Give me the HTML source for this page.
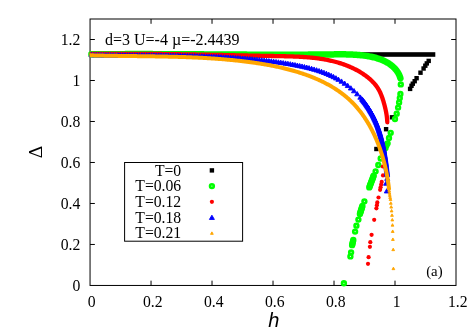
<!DOCTYPE html>
<html><head><meta charset="utf-8"><title>chart</title>
<style>html,body{margin:0;padding:0;background:#fff;}body{width:473px;height:331px;overflow:hidden;position:relative;font-family:"Liberation Sans",sans-serif;}</style>
</head><body>
<svg width="473" height="331" viewBox="0 0 473 331" style="position:absolute;left:0;top:0;will-change:transform">
<rect width="473" height="331" fill="#fff"/>
<g stroke="#000" stroke-width="1" fill="none">
<rect x="90.05" y="19.0" width="365.95" height="266.45"/>
<path d="M151.04 285.45V280.65M151.04 19.0V23.8"/>
<path d="M90.05 244.46H94.85M456.0 244.46H451.2"/>
<path d="M212.03 285.45V280.65M212.03 19.0V23.8"/>
<path d="M90.05 203.47H94.85M456.0 203.47H451.2"/>
<path d="M273.03 285.45V280.65M273.03 19.0V23.8"/>
<path d="M90.05 162.47H94.85M456.0 162.47H451.2"/>
<path d="M334.02 285.45V280.65M334.02 19.0V23.8"/>
<path d="M90.05 121.48H94.85M456.0 121.48H451.2"/>
<path d="M395.01 285.45V280.65M395.01 19.0V23.8"/>
<path d="M90.05 80.49H94.85M456.0 80.49H451.2"/>
<path d="M90.05 39.50H94.85M456.0 39.50H451.2"/>
</g>
<g shape-rendering="auto">
<rect x="88.8" y="52.2" width="346.5" height="4.6" fill="#000"/>
<rect x="426.50" y="58.70" width="4.4" height="4.4" fill="#000"/>
<rect x="424.60" y="61.20" width="4.4" height="4.4" fill="#000"/>
<rect x="423.10" y="63.50" width="4.4" height="4.4" fill="#000"/>
<rect x="421.40" y="66.30" width="4.4" height="4.4" fill="#000"/>
<rect x="418.30" y="70.50" width="4.4" height="4.4" fill="#000"/>
<rect x="414.40" y="76.00" width="4.4" height="4.4" fill="#000"/>
<rect x="412.50" y="79.00" width="4.4" height="4.4" fill="#000"/>
<rect x="410.60" y="81.50" width="4.4" height="4.4" fill="#000"/>
<rect x="409.30" y="83.60" width="4.4" height="4.4" fill="#000"/>
<rect x="407.90" y="86.70" width="4.4" height="4.4" fill="#000"/>
<rect x="389.80" y="115.10" width="4.4" height="4.4" fill="#000"/>
<rect x="383.90" y="127.00" width="4.4" height="4.4" fill="#000"/>
<rect x="374.20" y="146.80" width="4.4" height="4.4" fill="#000"/>
<path d="M91.50 54.35L92.50 54.34L93.50 54.33L94.50 54.32L95.50 54.31L96.50 54.30L97.50 54.29L98.50 54.28L99.50 54.27L100.50 54.26L101.50 54.25L102.50 54.24L103.50 54.24L104.50 54.23L105.50 54.22L106.50 54.21L107.50 54.21L108.50 54.20L109.50 54.19L110.50 54.19L111.50 54.18L112.50 54.18L113.50 54.17L114.50 54.17L115.50 54.16L116.50 54.16L117.50 54.15L118.50 54.15L119.50 54.14L120.50 54.14L121.50 54.14L122.50 54.13L123.50 54.13L124.50 54.13L125.50 54.12L126.50 54.12L127.50 54.12L128.50 54.12L129.50 54.11L130.50 54.11L131.50 54.11L132.50 54.11L133.50 54.11L134.50 54.11L135.50 54.11L136.50 54.11L137.50 54.11L138.50 54.11L139.50 54.11L140.50 54.11L141.50 54.11L142.50 54.11L143.50 54.11L144.50 54.11L145.50 54.11L146.50 54.11L147.50 54.11L148.50 54.12L149.50 54.12L150.50 54.12L151.50 54.12L152.50 54.12L153.50 54.13L154.50 54.13L155.50 54.13L156.50 54.13L157.50 54.14L158.50 54.14L159.50 54.14L160.50 54.15L161.50 54.15L162.50 54.15L163.50 54.16L164.50 54.16L165.50 54.16L166.50 54.17L167.50 54.17L168.50 54.18L169.50 54.18L170.50 54.18L171.50 54.19L172.50 54.19L173.50 54.20L174.50 54.20L175.50 54.21L176.50 54.21L177.50 54.22L178.50 54.22L179.50 54.23L180.50 54.23L181.50 54.24L182.50 54.24L183.50 54.25L184.50 54.26L185.50 54.26L186.50 54.27L187.50 54.27L188.50 54.28L189.50 54.28L190.50 54.29L191.50 54.30L192.50 54.30L193.50 54.31L194.50 54.31L195.50 54.32L196.50 54.33L197.50 54.33L198.50 54.34L199.50 54.35L200.50 54.35L201.50 54.36L202.50 54.36L203.50 54.37L204.50 54.38L205.50 54.38L206.50 54.39L207.50 54.40L208.50 54.40L209.50 54.41L210.50 54.42L211.50 54.42L212.50 54.43L213.50 54.43L214.50 54.44L215.50 54.45L216.50 54.45L217.50 54.46L218.50 54.47L219.50 54.47L220.50 54.48L221.50 54.48L222.50 54.49L223.50 54.50L224.50 54.50L225.50 54.51L226.50 54.52L227.50 54.52L228.50 54.53L229.50 54.53L230.50 54.54L231.50 54.54L232.50 54.55L233.50 54.56L234.50 54.56L235.50 54.57L236.50 54.57L237.50 54.58L238.50 54.58L239.50 54.59L240.50 54.59L241.50 54.60L242.50 54.60L243.50 54.61L244.50 54.61L245.50 54.62L246.50 54.62L247.50 54.63L248.50 54.63L249.50 54.64L250.50 54.64L251.50 54.64L252.50 54.65L253.50 54.65L254.50 54.66L255.50 54.66L256.50 54.66L257.50 54.67L258.50 54.67L259.50 54.67L260.50 54.68L261.50 54.68L262.50 54.68L263.50 54.69L264.50 54.69L265.50 54.69L266.50 54.69L267.50 54.69L268.50 54.70L269.50 54.70L270.50 54.70L271.50 54.70L272.50 54.70L273.50 54.70L274.50 54.70L275.50 54.71L276.50 54.71L277.50 54.71L278.50 54.71L279.50 54.71L280.50 54.71L281.50 54.71L282.50 54.71L283.50 54.71L284.50 54.70L285.50 54.70L286.50 54.70L287.50 54.70L288.50 54.70L289.50 54.70L290.50 54.70L291.50 54.69L292.50 54.69L293.50 54.69L294.50 54.69L295.50 54.68L296.50 54.68L297.50 54.68L298.50 54.67L299.50 54.67L300.50 54.66L301.50 54.66L302.50 54.65L303.50 54.65L304.50 54.64L305.50 54.64L306.50 54.63L307.50 54.63L308.50 54.62L309.50 54.62L310.50 54.61L311.50 54.60L312.50 54.59L313.50 54.59L314.50 54.58L315.50 54.57L316.50 54.56L317.50 54.55L318.50 54.55L319.50 54.54L320.50 54.53L321.50 54.52L322.50 54.51L323.50 54.50L324.50 54.49L325.50 54.48L326.50 54.47L327.50 54.45L328.50 54.44L329.50 54.43L330.50 54.42L331.50 54.41L332.50 54.39L333.50 54.38L334.50 54.37L335.50 54.36L336.50 54.35L337.50 54.34L338.50 54.34L339.50 54.33L340.50 54.33L341.50 54.33L342.50 54.34L343.50 54.34L344.50 54.35L345.50 54.37L346.50 54.38L347.50 54.40L348.50 54.43L349.49 54.46L350.49 54.49L351.49 54.53L352.49 54.58L353.49 54.63L354.49 54.68L355.49 54.75L356.49 54.81L357.48 54.89L358.48 54.97L359.47 55.06L360.47 55.15L361.47 55.26L362.46 55.37L363.45 55.49L364.44 55.62L365.43 55.75L366.42 55.90L367.41 56.05L368.40 56.22L369.38 56.39L370.36 56.58L371.34 56.78L372.32 56.99L373.30 57.22L374.27 57.46L375.23 57.71L376.20 57.98L377.16 58.26L378.11 58.56L379.06 58.87L380.00 59.21L380.94 59.56L381.87 59.92L382.79 60.31L383.71 60.72L384.61 61.15L385.50 61.60L386.39 62.07L387.26 62.56L388.11 63.07L388.96 63.61L389.78 64.17L390.60 64.75L391.39 65.36L392.17 65.99L392.92 66.65L393.66 67.33L394.37 68.03L395.06 68.75L395.72 69.50L396.35 70.28L396.95 71.08L397.52 71.90L398.05 72.75L398.55 73.62L399.00 74.51L399.42 75.42L399.79 76.34L400.11 77.29L400.40 78.25" fill="none" stroke="#00ff00" stroke-width="6.5" stroke-linecap="round" stroke-linejoin="round"/>
<circle cx="400.80" cy="84.40" r="1.85" fill="none" stroke="#00ff00" stroke-width="2.65"/>
<circle cx="400.40" cy="93.90" r="1.85" fill="none" stroke="#00ff00" stroke-width="2.65"/>
<circle cx="399.80" cy="98.10" r="1.85" fill="none" stroke="#00ff00" stroke-width="2.65"/>
<circle cx="399.10" cy="102.40" r="1.85" fill="none" stroke="#00ff00" stroke-width="2.65"/>
<circle cx="398.10" cy="107.60" r="1.85" fill="none" stroke="#00ff00" stroke-width="2.65"/>
<circle cx="396.70" cy="113.70" r="1.85" fill="none" stroke="#00ff00" stroke-width="2.65"/>
<circle cx="395.00" cy="119.00" r="1.85" fill="none" stroke="#00ff00" stroke-width="2.65"/>
<circle cx="390.70" cy="132.80" r="1.85" fill="none" stroke="#00ff00" stroke-width="2.65"/>
<circle cx="389.00" cy="138.00" r="1.85" fill="none" stroke="#00ff00" stroke-width="2.65"/>
<circle cx="387.60" cy="143.30" r="1.85" fill="none" stroke="#00ff00" stroke-width="2.65"/>
<circle cx="386.50" cy="145.30" r="1.85" fill="none" stroke="#00ff00" stroke-width="2.65"/>
<circle cx="385.50" cy="148.00" r="1.85" fill="none" stroke="#00ff00" stroke-width="2.65"/>
<circle cx="383.50" cy="152.50" r="1.85" fill="none" stroke="#00ff00" stroke-width="2.65"/>
<circle cx="380.70" cy="158.50" r="1.85" fill="none" stroke="#00ff00" stroke-width="2.65"/>
<circle cx="378.30" cy="165.00" r="1.85" fill="none" stroke="#00ff00" stroke-width="2.65"/>
<circle cx="375.60" cy="171.30" r="1.85" fill="none" stroke="#00ff00" stroke-width="2.65"/>
<circle cx="373.70" cy="175.60" r="1.85" fill="none" stroke="#00ff00" stroke-width="2.65"/>
<circle cx="373.26" cy="176.78" r="1.85" fill="none" stroke="#00ff00" stroke-width="2.65"/>
<circle cx="372.82" cy="177.96" r="1.85" fill="none" stroke="#00ff00" stroke-width="2.65"/>
<circle cx="372.38" cy="179.14" r="1.85" fill="none" stroke="#00ff00" stroke-width="2.65"/>
<circle cx="371.94" cy="180.32" r="1.85" fill="none" stroke="#00ff00" stroke-width="2.65"/>
<circle cx="371.50" cy="181.50" r="1.85" fill="none" stroke="#00ff00" stroke-width="2.65"/>
<circle cx="371.06" cy="182.68" r="1.85" fill="none" stroke="#00ff00" stroke-width="2.65"/>
<circle cx="370.62" cy="183.86" r="1.85" fill="none" stroke="#00ff00" stroke-width="2.65"/>
<circle cx="370.18" cy="185.04" r="1.85" fill="none" stroke="#00ff00" stroke-width="2.65"/>
<circle cx="369.74" cy="186.22" r="1.85" fill="none" stroke="#00ff00" stroke-width="2.65"/>
<circle cx="369.30" cy="187.40" r="1.85" fill="none" stroke="#00ff00" stroke-width="2.65"/>
<circle cx="364.40" cy="201.30" r="1.85" fill="none" stroke="#00ff00" stroke-width="2.65"/>
<circle cx="362.40" cy="206.00" r="1.85" fill="none" stroke="#00ff00" stroke-width="2.65"/>
<circle cx="362.04" cy="207.14" r="1.85" fill="none" stroke="#00ff00" stroke-width="2.65"/>
<circle cx="361.69" cy="208.29" r="1.85" fill="none" stroke="#00ff00" stroke-width="2.65"/>
<circle cx="361.33" cy="209.43" r="1.85" fill="none" stroke="#00ff00" stroke-width="2.65"/>
<circle cx="360.97" cy="210.57" r="1.85" fill="none" stroke="#00ff00" stroke-width="2.65"/>
<circle cx="360.61" cy="211.71" r="1.85" fill="none" stroke="#00ff00" stroke-width="2.65"/>
<circle cx="360.26" cy="212.86" r="1.85" fill="none" stroke="#00ff00" stroke-width="2.65"/>
<circle cx="359.90" cy="214.00" r="1.85" fill="none" stroke="#00ff00" stroke-width="2.65"/>
<circle cx="358.40" cy="219.60" r="1.85" fill="none" stroke="#00ff00" stroke-width="2.65"/>
<circle cx="356.40" cy="225.70" r="1.85" fill="none" stroke="#00ff00" stroke-width="2.65"/>
<circle cx="355.10" cy="231.60" r="1.85" fill="none" stroke="#00ff00" stroke-width="2.65"/>
<circle cx="353.30" cy="240.00" r="1.85" fill="none" stroke="#00ff00" stroke-width="2.65"/>
<circle cx="353.00" cy="241.30" r="1.85" fill="none" stroke="#00ff00" stroke-width="2.65"/>
<circle cx="352.70" cy="242.60" r="1.85" fill="none" stroke="#00ff00" stroke-width="2.65"/>
<circle cx="352.40" cy="243.90" r="1.85" fill="none" stroke="#00ff00" stroke-width="2.65"/>
<circle cx="352.10" cy="245.20" r="1.85" fill="none" stroke="#00ff00" stroke-width="2.65"/>
<circle cx="351.10" cy="252.30" r="1.85" fill="none" stroke="#00ff00" stroke-width="2.65"/>
<circle cx="350.40" cy="256.40" r="1.85" fill="none" stroke="#00ff00" stroke-width="2.65"/>
<circle cx="343.90" cy="283.20" r="1.85" fill="none" stroke="#00ff00" stroke-width="2.65"/>
<path d="M91.50 54.00L92.50 53.99L93.50 53.98L94.50 53.96L95.50 53.95L96.50 53.94L97.50 53.93L98.50 53.92L99.50 53.91L100.50 53.90L101.50 53.89L102.50 53.89L103.50 53.88L104.50 53.87L105.50 53.86L106.50 53.86L107.50 53.85L108.50 53.84L109.50 53.84L110.50 53.83L111.50 53.83L112.50 53.82L113.50 53.82L114.50 53.82L115.50 53.81L116.50 53.81L117.50 53.81L118.50 53.80L119.50 53.80L120.50 53.80L121.50 53.80L122.50 53.80L123.50 53.80L124.50 53.80L125.50 53.80L126.50 53.80L127.50 53.80L128.50 53.80L129.50 53.80L130.50 53.81L131.50 53.81L132.50 53.81L133.50 53.81L134.50 53.82L135.50 53.82L136.50 53.82L137.50 53.83L138.50 53.83L139.50 53.84L140.50 53.84L141.50 53.85L142.50 53.85L143.50 53.86L144.50 53.87L145.50 53.87L146.50 53.88L147.50 53.89L148.50 53.90L149.50 53.90L150.50 53.91L151.50 53.92L152.50 53.93L153.50 53.94L154.50 53.95L155.50 53.96L156.50 53.96L157.50 53.97L158.50 53.99L159.50 54.00L160.50 54.01L161.50 54.02L162.50 54.03L163.50 54.04L164.50 54.05L165.50 54.06L166.50 54.08L167.50 54.09L168.50 54.10L169.50 54.11L170.50 54.13L171.50 54.14L172.50 54.15L173.50 54.17L174.50 54.18L175.50 54.19L176.50 54.21L177.50 54.22L178.50 54.24L179.50 54.25L180.50 54.27L181.50 54.28L182.50 54.30L183.50 54.31L184.50 54.33L185.50 54.34L186.50 54.36L187.50 54.38L188.50 54.39L189.49 54.41L190.49 54.43L191.49 54.44L192.49 54.46L193.49 54.48L194.49 54.49L195.49 54.51L196.49 54.53L197.49 54.55L198.49 54.56L199.49 54.58L200.49 54.60L201.49 54.62L202.49 54.64L203.49 54.65L204.49 54.67L205.49 54.69L206.49 54.71L207.49 54.73L208.49 54.75L209.49 54.77L210.49 54.79L211.49 54.80L212.49 54.82L213.49 54.84L214.49 54.86L215.49 54.88L216.49 54.90L217.49 54.92L218.49 54.94L219.49 54.96L220.49 54.98L221.49 55.00L222.49 55.02L223.49 55.04L224.49 55.06L225.49 55.08L226.49 55.10L227.49 55.12L228.49 55.14L229.49 55.16L230.49 55.18L231.49 55.20L232.49 55.22L233.49 55.24L234.49 55.26L235.49 55.28L236.49 55.30L237.49 55.32L238.49 55.34L239.49 55.36L240.49 55.38L241.49 55.40L242.49 55.42L243.49 55.44L244.48 55.46L245.48 55.48L246.48 55.50L247.48 55.52L248.48 55.54L249.48 55.56L250.48 55.58L251.48 55.60L252.48 55.62L253.48 55.64L254.48 55.66L255.48 55.68L256.48 55.70L257.48 55.72L258.48 55.74L259.48 55.76L260.48 55.78L261.48 55.80L262.48 55.82L263.48 55.84L264.48 55.85L265.48 55.87L266.48 55.89L267.48 55.91L268.48 55.93L269.48 55.95L270.48 55.97L271.48 55.99L272.48 56.00L273.48 56.02L274.48 56.04L275.48 56.06L276.48 56.08L277.48 56.09L278.48 56.11L279.48 56.13L280.48 56.15L281.48 56.17L282.48 56.19L283.48 56.21L284.48 56.23L285.48 56.26L286.48 56.28L287.48 56.31L288.48 56.33L289.48 56.36L290.48 56.39L291.47 56.43L292.47 56.46L293.47 56.50L294.47 56.53L295.47 56.58L296.47 56.62L297.47 56.67L298.47 56.71L299.47 56.77L300.47 56.82L301.46 56.88L302.46 56.94L303.46 57.00L304.46 57.07L305.46 57.15L306.45 57.22L307.45 57.30L308.45 57.38L309.44 57.47L310.44 57.57L311.43 57.66L312.43 57.76L313.42 57.87L314.42 57.98L315.41 58.10L316.40 58.22L317.39 58.35L318.38 58.48L319.37 58.62L320.36 58.76L321.35 58.92L322.34 59.07L323.33 59.23L324.31 59.40L325.30 59.58L326.28 59.76L327.26 59.95L328.24 60.15L329.22 60.35L330.20 60.57L331.17 60.78L332.15 61.01L333.12 61.25L334.09 61.49L335.06 61.74L336.02 62.00L336.99 62.26L337.95 62.54L338.91 62.82L339.86 63.12L340.82 63.42L341.77 63.73L342.72 64.05L343.66 64.38L344.60 64.72L345.54 65.06L346.47 65.42L347.40 65.79L348.33 66.16L349.25 66.55L350.17 66.95L351.08 67.35L351.99 67.77L352.90 68.19L353.80 68.63L354.69 69.08L355.58 69.53L356.47 70.00L357.35 70.48L358.22 70.96L359.09 71.46L359.95 71.97L360.81 72.48L361.65 73.01L362.50 73.55L363.33 74.10L364.16 74.66L364.98 75.24L365.79 75.82L366.59 76.42L367.38 77.03L368.17 77.65L368.94 78.29L369.70 78.94L370.44 79.60L371.18 80.28L371.90 80.97L372.61 81.68L373.30 82.40L373.97 83.14L374.63 83.89L375.27 84.66L375.89 85.45L376.49 86.25L377.07 87.06L377.63 87.89L378.17 88.73L378.68 89.59L379.16 90.47L379.63 91.35L380.07 92.25L380.48 93.16L380.88 94.08L381.26 95.00L381.62 95.94L381.97 96.87L382.30 97.82L382.62 98.76L382.93 99.72L383.23 100.67L383.52 101.63L383.80 102.59L384.08 103.55L384.34 104.51L384.60 105.48L384.85 106.45L385.09 107.42L385.32 108.39L385.54 109.37L385.75 110.34L385.95 111.32L386.14 112.31L386.32 113.29L386.48 114.28L386.63 115.26L386.77 116.25L386.90 117.25L387.01 118.24L387.10 119.24L387.18 120.23L387.24 121.23L387.28 122.23" fill="none" stroke="#ff0000" stroke-width="4.3" stroke-linecap="round" stroke-linejoin="round"/>
<circle cx="382.80" cy="166.50" r="2.1" fill="#ff0000"/>
<circle cx="383.00" cy="175.40" r="2.1" fill="#ff0000"/>
<circle cx="381.70" cy="181.90" r="2.1" fill="#ff0000"/>
<circle cx="381.20" cy="184.50" r="2.1" fill="#ff0000"/>
<circle cx="380.60" cy="187.30" r="2.1" fill="#ff0000"/>
<circle cx="380.10" cy="189.80" r="2.1" fill="#ff0000"/>
<circle cx="378.50" cy="197.50" r="2.1" fill="#ff0000"/>
<circle cx="377.30" cy="202.40" r="2.1" fill="#ff0000"/>
<circle cx="376.90" cy="205.20" r="2.1" fill="#ff0000"/>
<circle cx="376.40" cy="208.30" r="2.1" fill="#ff0000"/>
<circle cx="374.20" cy="219.80" r="2.1" fill="#ff0000"/>
<circle cx="371.60" cy="234.80" r="2.1" fill="#ff0000"/>
<circle cx="370.30" cy="242.20" r="2.1" fill="#ff0000"/>
<circle cx="369.90" cy="246.80" r="2.1" fill="#ff0000"/>
<circle cx="368.60" cy="257.20" r="2.1" fill="#ff0000"/>
<circle cx="368.00" cy="263.80" r="2.1" fill="#ff0000"/>
<path d="M89.02 56.75L93.98 56.75L91.50 52.45Z" fill="#0000ff" stroke="#0000ff" stroke-width="0.9" stroke-linejoin="round"/>
<path d="M91.42 56.79L96.38 56.79L93.90 52.49Z" fill="#0000ff" stroke="#0000ff" stroke-width="0.9" stroke-linejoin="round"/>
<path d="M93.82 56.82L98.78 56.82L96.30 52.52Z" fill="#0000ff" stroke="#0000ff" stroke-width="0.9" stroke-linejoin="round"/>
<path d="M96.22 56.85L101.18 56.85L98.70 52.55Z" fill="#0000ff" stroke="#0000ff" stroke-width="0.9" stroke-linejoin="round"/>
<path d="M98.62 56.88L103.58 56.88L101.10 52.58Z" fill="#0000ff" stroke="#0000ff" stroke-width="0.9" stroke-linejoin="round"/>
<path d="M101.02 56.90L105.98 56.90L103.50 52.61Z" fill="#0000ff" stroke="#0000ff" stroke-width="0.9" stroke-linejoin="round"/>
<path d="M103.42 56.93L108.38 56.93L105.90 52.63Z" fill="#0000ff" stroke="#0000ff" stroke-width="0.9" stroke-linejoin="round"/>
<path d="M105.82 56.95L110.78 56.95L108.30 52.65Z" fill="#0000ff" stroke="#0000ff" stroke-width="0.9" stroke-linejoin="round"/>
<path d="M108.22 56.97L113.18 56.97L110.70 52.67Z" fill="#0000ff" stroke="#0000ff" stroke-width="0.9" stroke-linejoin="round"/>
<path d="M110.62 56.99L115.58 56.99L113.10 52.69Z" fill="#0000ff" stroke="#0000ff" stroke-width="0.9" stroke-linejoin="round"/>
<path d="M113.02 57.00L117.98 57.00L115.50 52.71Z" fill="#0000ff" stroke="#0000ff" stroke-width="0.9" stroke-linejoin="round"/>
<path d="M115.42 57.02L120.38 57.02L117.90 52.72Z" fill="#0000ff" stroke="#0000ff" stroke-width="0.9" stroke-linejoin="round"/>
<path d="M117.82 57.03L122.78 57.03L120.30 52.74Z" fill="#0000ff" stroke="#0000ff" stroke-width="0.9" stroke-linejoin="round"/>
<path d="M120.22 57.05L125.18 57.05L122.70 52.75Z" fill="#0000ff" stroke="#0000ff" stroke-width="0.9" stroke-linejoin="round"/>
<path d="M122.62 57.06L127.58 57.06L125.10 52.76Z" fill="#0000ff" stroke="#0000ff" stroke-width="0.9" stroke-linejoin="round"/>
<path d="M125.02 57.07L129.98 57.07L127.50 52.78Z" fill="#0000ff" stroke="#0000ff" stroke-width="0.9" stroke-linejoin="round"/>
<path d="M127.42 57.08L132.38 57.08L129.90 52.79Z" fill="#0000ff" stroke="#0000ff" stroke-width="0.9" stroke-linejoin="round"/>
<path d="M129.82 57.10L134.78 57.10L132.30 52.80Z" fill="#0000ff" stroke="#0000ff" stroke-width="0.9" stroke-linejoin="round"/>
<path d="M132.22 57.11L137.18 57.11L134.70 52.81Z" fill="#0000ff" stroke="#0000ff" stroke-width="0.9" stroke-linejoin="round"/>
<path d="M134.62 57.12L139.58 57.12L137.10 52.82Z" fill="#0000ff" stroke="#0000ff" stroke-width="0.9" stroke-linejoin="round"/>
<path d="M137.02 57.13L141.98 57.13L139.50 52.83Z" fill="#0000ff" stroke="#0000ff" stroke-width="0.9" stroke-linejoin="round"/>
<path d="M139.42 57.14L144.38 57.14L141.90 52.85Z" fill="#0000ff" stroke="#0000ff" stroke-width="0.9" stroke-linejoin="round"/>
<path d="M141.82 57.15L146.78 57.15L144.30 52.86Z" fill="#0000ff" stroke="#0000ff" stroke-width="0.9" stroke-linejoin="round"/>
<path d="M144.22 57.17L149.18 57.17L146.70 52.87Z" fill="#0000ff" stroke="#0000ff" stroke-width="0.9" stroke-linejoin="round"/>
<path d="M146.62 57.18L151.58 57.18L149.10 52.89Z" fill="#0000ff" stroke="#0000ff" stroke-width="0.9" stroke-linejoin="round"/>
<path d="M149.02 57.20L153.98 57.20L151.50 52.90Z" fill="#0000ff" stroke="#0000ff" stroke-width="0.9" stroke-linejoin="round"/>
<path d="M151.42 57.21L156.38 57.21L153.90 52.92Z" fill="#0000ff" stroke="#0000ff" stroke-width="0.9" stroke-linejoin="round"/>
<path d="M153.82 57.23L158.78 57.23L156.30 52.94Z" fill="#0000ff" stroke="#0000ff" stroke-width="0.9" stroke-linejoin="round"/>
<path d="M156.22 57.25L161.18 57.25L158.70 52.96Z" fill="#0000ff" stroke="#0000ff" stroke-width="0.9" stroke-linejoin="round"/>
<path d="M158.62 57.27L163.58 57.27L161.10 52.98Z" fill="#0000ff" stroke="#0000ff" stroke-width="0.9" stroke-linejoin="round"/>
<path d="M161.02 57.30L165.98 57.30L163.50 53.00Z" fill="#0000ff" stroke="#0000ff" stroke-width="0.9" stroke-linejoin="round"/>
<path d="M163.42 57.32L168.38 57.32L165.90 53.03Z" fill="#0000ff" stroke="#0000ff" stroke-width="0.9" stroke-linejoin="round"/>
<path d="M165.82 57.35L170.78 57.35L168.30 53.05Z" fill="#0000ff" stroke="#0000ff" stroke-width="0.9" stroke-linejoin="round"/>
<path d="M168.22 57.38L173.18 57.38L170.70 53.08Z" fill="#0000ff" stroke="#0000ff" stroke-width="0.9" stroke-linejoin="round"/>
<path d="M170.62 57.41L175.58 57.41L173.10 53.12Z" fill="#0000ff" stroke="#0000ff" stroke-width="0.9" stroke-linejoin="round"/>
<path d="M173.02 57.45L177.98 57.45L175.50 53.15Z" fill="#0000ff" stroke="#0000ff" stroke-width="0.9" stroke-linejoin="round"/>
<path d="M175.42 57.49L180.38 57.49L177.90 53.19Z" fill="#0000ff" stroke="#0000ff" stroke-width="0.9" stroke-linejoin="round"/>
<path d="M177.82 57.53L182.78 57.53L180.30 53.23Z" fill="#0000ff" stroke="#0000ff" stroke-width="0.9" stroke-linejoin="round"/>
<path d="M180.22 57.57L185.18 57.57L182.70 53.28Z" fill="#0000ff" stroke="#0000ff" stroke-width="0.9" stroke-linejoin="round"/>
<path d="M182.61 57.62L187.57 57.62L185.09 53.33Z" fill="#0000ff" stroke="#0000ff" stroke-width="0.9" stroke-linejoin="round"/>
<path d="M185.01 57.68L189.97 57.68L187.49 53.38Z" fill="#0000ff" stroke="#0000ff" stroke-width="0.9" stroke-linejoin="round"/>
<path d="M187.41 57.73L192.37 57.73L189.89 53.44Z" fill="#0000ff" stroke="#0000ff" stroke-width="0.9" stroke-linejoin="round"/>
<path d="M189.81 57.79L194.77 57.79L192.29 53.50Z" fill="#0000ff" stroke="#0000ff" stroke-width="0.9" stroke-linejoin="round"/>
<path d="M192.21 57.86L197.17 57.86L194.69 53.56Z" fill="#0000ff" stroke="#0000ff" stroke-width="0.9" stroke-linejoin="round"/>
<path d="M194.61 57.93L199.57 57.93L197.09 53.63Z" fill="#0000ff" stroke="#0000ff" stroke-width="0.9" stroke-linejoin="round"/>
<path d="M197.01 58.00L201.97 58.00L199.49 53.71Z" fill="#0000ff" stroke="#0000ff" stroke-width="0.9" stroke-linejoin="round"/>
<path d="M199.41 58.08L204.37 58.08L201.89 53.78Z" fill="#0000ff" stroke="#0000ff" stroke-width="0.9" stroke-linejoin="round"/>
<path d="M201.81 58.16L206.77 58.16L204.29 53.87Z" fill="#0000ff" stroke="#0000ff" stroke-width="0.9" stroke-linejoin="round"/>
<path d="M204.21 58.25L209.17 58.25L206.69 53.95Z" fill="#0000ff" stroke="#0000ff" stroke-width="0.9" stroke-linejoin="round"/>
<path d="M206.60 58.34L211.56 58.34L209.08 54.05Z" fill="#0000ff" stroke="#0000ff" stroke-width="0.9" stroke-linejoin="round"/>
<path d="M209.00 58.44L213.96 58.44L211.48 54.15Z" fill="#0000ff" stroke="#0000ff" stroke-width="0.9" stroke-linejoin="round"/>
<path d="M211.40 58.55L216.36 58.55L213.88 54.25Z" fill="#0000ff" stroke="#0000ff" stroke-width="0.9" stroke-linejoin="round"/>
<path d="M213.80 58.66L218.76 58.66L216.28 54.36Z" fill="#0000ff" stroke="#0000ff" stroke-width="0.9" stroke-linejoin="round"/>
<path d="M216.19 58.77L221.15 58.77L218.67 54.48Z" fill="#0000ff" stroke="#0000ff" stroke-width="0.9" stroke-linejoin="round"/>
<path d="M218.59 58.89L223.55 58.89L221.07 54.60Z" fill="#0000ff" stroke="#0000ff" stroke-width="0.9" stroke-linejoin="round"/>
<path d="M220.99 59.02L225.95 59.02L223.47 54.73Z" fill="#0000ff" stroke="#0000ff" stroke-width="0.9" stroke-linejoin="round"/>
<path d="M223.38 59.16L228.34 59.16L225.86 54.86Z" fill="#0000ff" stroke="#0000ff" stroke-width="0.9" stroke-linejoin="round"/>
<path d="M225.78 59.30L230.74 59.30L228.26 55.00Z" fill="#0000ff" stroke="#0000ff" stroke-width="0.9" stroke-linejoin="round"/>
<path d="M228.17 59.44L233.13 59.44L230.65 55.15Z" fill="#0000ff" stroke="#0000ff" stroke-width="0.9" stroke-linejoin="round"/>
<path d="M230.57 59.60L235.53 59.60L233.05 55.30Z" fill="#0000ff" stroke="#0000ff" stroke-width="0.9" stroke-linejoin="round"/>
<path d="M232.96 59.76L237.92 59.76L235.44 55.46Z" fill="#0000ff" stroke="#0000ff" stroke-width="0.9" stroke-linejoin="round"/>
<path d="M235.36 59.93L240.32 59.93L237.84 55.63Z" fill="#0000ff" stroke="#0000ff" stroke-width="0.9" stroke-linejoin="round"/>
<path d="M237.75 60.10L242.71 60.10L240.23 55.81Z" fill="#0000ff" stroke="#0000ff" stroke-width="0.9" stroke-linejoin="round"/>
<path d="M240.15 60.28L245.11 60.28L242.63 55.99Z" fill="#0000ff" stroke="#0000ff" stroke-width="0.9" stroke-linejoin="round"/>
<path d="M242.54 60.47L247.50 60.47L245.02 56.18Z" fill="#0000ff" stroke="#0000ff" stroke-width="0.9" stroke-linejoin="round"/>
<path d="M244.93 60.67L249.89 60.67L247.41 56.38Z" fill="#0000ff" stroke="#0000ff" stroke-width="0.9" stroke-linejoin="round"/>
<path d="M247.32 60.88L252.28 60.88L249.80 56.58Z" fill="#0000ff" stroke="#0000ff" stroke-width="0.9" stroke-linejoin="round"/>
<path d="M249.71 61.09L254.67 61.09L252.19 56.79Z" fill="#0000ff" stroke="#0000ff" stroke-width="0.9" stroke-linejoin="round"/>
<path d="M252.10 61.31L257.06 61.31L254.58 57.02Z" fill="#0000ff" stroke="#0000ff" stroke-width="0.9" stroke-linejoin="round"/>
<path d="M254.49 61.54L259.45 61.54L256.97 57.25Z" fill="#0000ff" stroke="#0000ff" stroke-width="0.9" stroke-linejoin="round"/>
<path d="M256.88 61.78L261.84 61.78L259.36 57.49Z" fill="#0000ff" stroke="#0000ff" stroke-width="0.9" stroke-linejoin="round"/>
<path d="M259.27 62.03L264.23 62.03L261.75 57.73Z" fill="#0000ff" stroke="#0000ff" stroke-width="0.9" stroke-linejoin="round"/>
<path d="M261.65 62.29L266.61 62.29L264.13 57.99Z" fill="#0000ff" stroke="#0000ff" stroke-width="0.9" stroke-linejoin="round"/>
<path d="M264.04 62.56L269.00 62.56L266.52 58.26Z" fill="#0000ff" stroke="#0000ff" stroke-width="0.9" stroke-linejoin="round"/>
<path d="M266.42 62.84L271.38 62.84L268.90 58.55Z" fill="#0000ff" stroke="#0000ff" stroke-width="0.9" stroke-linejoin="round"/>
<path d="M268.80 63.13L273.76 63.13L271.28 58.84Z" fill="#0000ff" stroke="#0000ff" stroke-width="0.9" stroke-linejoin="round"/>
<path d="M271.18 63.44L276.14 63.44L273.66 59.14Z" fill="#0000ff" stroke="#0000ff" stroke-width="0.9" stroke-linejoin="round"/>
<path d="M273.56 63.76L278.52 63.76L276.04 59.46Z" fill="#0000ff" stroke="#0000ff" stroke-width="0.9" stroke-linejoin="round"/>
<path d="M275.94 64.09L280.90 64.09L278.42 59.79Z" fill="#0000ff" stroke="#0000ff" stroke-width="0.9" stroke-linejoin="round"/>
<path d="M278.31 64.43L283.27 64.43L280.79 60.14Z" fill="#0000ff" stroke="#0000ff" stroke-width="0.9" stroke-linejoin="round"/>
<path d="M280.69 64.79L285.65 64.79L283.17 60.50Z" fill="#0000ff" stroke="#0000ff" stroke-width="0.9" stroke-linejoin="round"/>
<path d="M283.06 65.17L288.02 65.17L285.54 60.87Z" fill="#0000ff" stroke="#0000ff" stroke-width="0.9" stroke-linejoin="round"/>
<path d="M285.42 65.56L290.38 65.56L287.90 61.26Z" fill="#0000ff" stroke="#0000ff" stroke-width="0.9" stroke-linejoin="round"/>
<path d="M287.79 65.96L292.75 65.96L290.27 61.67Z" fill="#0000ff" stroke="#0000ff" stroke-width="0.9" stroke-linejoin="round"/>
<path d="M290.15 66.39L295.11 66.39L292.63 62.09Z" fill="#0000ff" stroke="#0000ff" stroke-width="0.9" stroke-linejoin="round"/>
<path d="M292.51 66.83L297.47 66.83L294.99 62.53Z" fill="#0000ff" stroke="#0000ff" stroke-width="0.9" stroke-linejoin="round"/>
<path d="M294.87 67.29L299.83 67.29L297.35 62.99Z" fill="#0000ff" stroke="#0000ff" stroke-width="0.9" stroke-linejoin="round"/>
<path d="M297.22 67.76L302.18 67.76L299.70 63.47Z" fill="#0000ff" stroke="#0000ff" stroke-width="0.9" stroke-linejoin="round"/>
<path d="M299.57 68.26L304.53 68.26L302.05 63.96Z" fill="#0000ff" stroke="#0000ff" stroke-width="0.9" stroke-linejoin="round"/>
<path d="M301.91 68.78L306.87 68.78L304.39 64.48Z" fill="#0000ff" stroke="#0000ff" stroke-width="0.9" stroke-linejoin="round"/>
<path d="M304.25 69.32L309.21 69.32L306.73 65.03Z" fill="#0000ff" stroke="#0000ff" stroke-width="0.9" stroke-linejoin="round"/>
<path d="M306.58 69.89L311.54 69.89L309.06 65.60Z" fill="#0000ff" stroke="#0000ff" stroke-width="0.9" stroke-linejoin="round"/>
<path d="M309.10 70.55L314.06 70.55L311.58 66.25Z" fill="#0000ff" stroke="#0000ff" stroke-width="0.9" stroke-linejoin="round"/>
<path d="M311.60 71.24L316.56 71.24L314.08 66.95Z" fill="#0000ff" stroke="#0000ff" stroke-width="0.9" stroke-linejoin="round"/>
<path d="M314.09 71.98L319.05 71.98L316.57 67.69Z" fill="#0000ff" stroke="#0000ff" stroke-width="0.9" stroke-linejoin="round"/>
<path d="M316.57 72.77L321.53 72.77L319.05 68.47Z" fill="#0000ff" stroke="#0000ff" stroke-width="0.9" stroke-linejoin="round"/>
<path d="M319.03 73.61L323.99 73.61L321.51 69.31Z" fill="#0000ff" stroke="#0000ff" stroke-width="0.9" stroke-linejoin="round"/>
<path d="M321.47 74.50L326.43 74.50L323.95 70.21Z" fill="#0000ff" stroke="#0000ff" stroke-width="0.9" stroke-linejoin="round"/>
<path d="M323.89 75.45L328.85 75.45L326.37 71.16Z" fill="#0000ff" stroke="#0000ff" stroke-width="0.9" stroke-linejoin="round"/>
<path d="M326.29 76.47L331.25 76.47L328.77 72.17Z" fill="#0000ff" stroke="#0000ff" stroke-width="0.9" stroke-linejoin="round"/>
<path d="M328.65 77.54L333.61 77.54L331.13 73.25Z" fill="#0000ff" stroke="#0000ff" stroke-width="0.9" stroke-linejoin="round"/>
<path d="M330.99 78.69L335.95 78.69L333.47 74.39Z" fill="#0000ff" stroke="#0000ff" stroke-width="0.9" stroke-linejoin="round"/>
<path d="M333.47 79.98L338.43 79.98L335.95 75.69Z" fill="#0000ff" stroke="#0000ff" stroke-width="0.9" stroke-linejoin="round"/>
<path d="M335.91 81.35L340.87 81.35L338.39 77.06Z" fill="#0000ff" stroke="#0000ff" stroke-width="0.9" stroke-linejoin="round"/>
<path d="M338.99 83.22L343.95 83.22L341.47 78.93Z" fill="#0000ff" stroke="#0000ff" stroke-width="0.9" stroke-linejoin="round"/>
<path d="M342.16 85.32L347.12 85.32L344.64 81.02Z" fill="#0000ff" stroke="#0000ff" stroke-width="0.9" stroke-linejoin="round"/>
<path d="M345.24 87.55L350.20 87.55L347.72 83.25Z" fill="#0000ff" stroke="#0000ff" stroke-width="0.9" stroke-linejoin="round"/>
<path d="M348.37 90.03L353.33 90.03L350.85 85.74Z" fill="#0000ff" stroke="#0000ff" stroke-width="0.9" stroke-linejoin="round"/>
<path d="M351.53 92.79L356.49 92.79L354.01 88.50Z" fill="#0000ff" stroke="#0000ff" stroke-width="0.9" stroke-linejoin="round"/>
<path d="M354.70 95.85L359.66 95.85L357.18 91.55Z" fill="#0000ff" stroke="#0000ff" stroke-width="0.9" stroke-linejoin="round"/>
<path d="M357.84 99.21L362.80 99.21L360.32 94.91Z" fill="#0000ff" stroke="#0000ff" stroke-width="0.9" stroke-linejoin="round"/>
<path d="M359.53 101.18L364.49 101.18L362.01 96.89Z" fill="#0000ff" stroke="#0000ff" stroke-width="0.9" stroke-linejoin="round"/>
<path d="M360.17 101.95L365.13 101.95L362.65 97.66Z" fill="#0000ff" stroke="#0000ff" stroke-width="0.9" stroke-linejoin="round"/>
<path d="M360.80 102.73L365.76 102.73L363.28 98.44Z" fill="#0000ff" stroke="#0000ff" stroke-width="0.9" stroke-linejoin="round"/>
<path d="M361.42 103.52L366.38 103.52L363.90 99.22Z" fill="#0000ff" stroke="#0000ff" stroke-width="0.9" stroke-linejoin="round"/>
<path d="M362.02 104.31L366.98 104.31L364.50 100.02Z" fill="#0000ff" stroke="#0000ff" stroke-width="0.9" stroke-linejoin="round"/>
<path d="M362.62 105.11L367.58 105.11L365.10 100.82Z" fill="#0000ff" stroke="#0000ff" stroke-width="0.9" stroke-linejoin="round"/>
<path d="M363.22 105.92L368.18 105.92L365.70 101.62Z" fill="#0000ff" stroke="#0000ff" stroke-width="0.9" stroke-linejoin="round"/>
<path d="M363.80 106.73L368.76 106.73L366.28 102.44Z" fill="#0000ff" stroke="#0000ff" stroke-width="0.9" stroke-linejoin="round"/>
<path d="M364.37 107.55L369.33 107.55L366.85 103.26Z" fill="#0000ff" stroke="#0000ff" stroke-width="0.9" stroke-linejoin="round"/>
<path d="M364.93 108.38L369.89 108.38L367.41 104.08Z" fill="#0000ff" stroke="#0000ff" stroke-width="0.9" stroke-linejoin="round"/>
<path d="M365.49 109.21L370.45 109.21L367.97 104.91Z" fill="#0000ff" stroke="#0000ff" stroke-width="0.9" stroke-linejoin="round"/>
<path d="M366.03 110.05L370.99 110.05L368.51 105.75Z" fill="#0000ff" stroke="#0000ff" stroke-width="0.9" stroke-linejoin="round"/>
<path d="M366.57 110.89L371.53 110.89L369.05 106.60Z" fill="#0000ff" stroke="#0000ff" stroke-width="0.9" stroke-linejoin="round"/>
<path d="M367.09 111.74L372.05 111.74L369.57 107.45Z" fill="#0000ff" stroke="#0000ff" stroke-width="0.9" stroke-linejoin="round"/>
<path d="M367.61 112.60L372.57 112.60L370.09 108.30Z" fill="#0000ff" stroke="#0000ff" stroke-width="0.9" stroke-linejoin="round"/>
<path d="M368.12 113.46L373.08 113.46L370.60 109.16Z" fill="#0000ff" stroke="#0000ff" stroke-width="0.9" stroke-linejoin="round"/>
<path d="M368.62 114.33L373.58 114.33L371.10 110.03Z" fill="#0000ff" stroke="#0000ff" stroke-width="0.9" stroke-linejoin="round"/>
<path d="M369.10 115.20L374.06 115.20L371.58 110.90Z" fill="#0000ff" stroke="#0000ff" stroke-width="0.9" stroke-linejoin="round"/>
<path d="M369.58 116.08L374.54 116.08L372.06 111.78Z" fill="#0000ff" stroke="#0000ff" stroke-width="0.9" stroke-linejoin="round"/>
<path d="M370.05 116.96L375.01 116.96L372.53 112.67Z" fill="#0000ff" stroke="#0000ff" stroke-width="0.9" stroke-linejoin="round"/>
<path d="M370.51 117.85L375.47 117.85L372.99 113.55Z" fill="#0000ff" stroke="#0000ff" stroke-width="0.9" stroke-linejoin="round"/>
<path d="M370.96 118.74L375.92 118.74L373.44 114.45Z" fill="#0000ff" stroke="#0000ff" stroke-width="0.9" stroke-linejoin="round"/>
<path d="M371.40 119.64L376.36 119.64L373.88 115.35Z" fill="#0000ff" stroke="#0000ff" stroke-width="0.9" stroke-linejoin="round"/>
<path d="M371.83 120.54L376.79 120.54L374.31 116.25Z" fill="#0000ff" stroke="#0000ff" stroke-width="0.9" stroke-linejoin="round"/>
<path d="M372.25 121.45L377.21 121.45L374.73 117.16Z" fill="#0000ff" stroke="#0000ff" stroke-width="0.9" stroke-linejoin="round"/>
<path d="M372.66 122.36L377.62 122.36L375.14 118.07Z" fill="#0000ff" stroke="#0000ff" stroke-width="0.9" stroke-linejoin="round"/>
<path d="M373.07 123.28L378.03 123.28L375.55 118.98Z" fill="#0000ff" stroke="#0000ff" stroke-width="0.9" stroke-linejoin="round"/>
<path d="M373.46 124.20L378.42 124.20L375.94 119.90Z" fill="#0000ff" stroke="#0000ff" stroke-width="0.9" stroke-linejoin="round"/>
<path d="M373.84 125.12L378.80 125.12L376.32 120.83Z" fill="#0000ff" stroke="#0000ff" stroke-width="0.9" stroke-linejoin="round"/>
<path d="M374.21 126.05L379.17 126.05L376.69 121.76Z" fill="#0000ff" stroke="#0000ff" stroke-width="0.9" stroke-linejoin="round"/>
<path d="M374.57 126.98L379.53 126.98L377.05 122.69Z" fill="#0000ff" stroke="#0000ff" stroke-width="0.9" stroke-linejoin="round"/>
<path d="M374.93 127.92L379.89 127.92L377.41 123.62Z" fill="#0000ff" stroke="#0000ff" stroke-width="0.9" stroke-linejoin="round"/>
<path d="M375.28 128.86L380.24 128.86L377.76 124.56Z" fill="#0000ff" stroke="#0000ff" stroke-width="0.9" stroke-linejoin="round"/>
<path d="M375.61 129.80L380.57 129.80L378.09 125.50Z" fill="#0000ff" stroke="#0000ff" stroke-width="0.9" stroke-linejoin="round"/>
<path d="M375.94 130.74L380.90 130.74L378.42 126.45Z" fill="#0000ff" stroke="#0000ff" stroke-width="0.9" stroke-linejoin="round"/>
<path d="M376.26 131.69L381.22 131.69L378.74 127.39Z" fill="#0000ff" stroke="#0000ff" stroke-width="0.9" stroke-linejoin="round"/>
<path d="M376.57 132.64L381.53 132.64L379.05 128.34Z" fill="#0000ff" stroke="#0000ff" stroke-width="0.9" stroke-linejoin="round"/>
<path d="M376.88 133.59L381.84 133.59L379.36 129.30Z" fill="#0000ff" stroke="#0000ff" stroke-width="0.9" stroke-linejoin="round"/>
<path d="M377.17 134.55L382.13 134.55L379.65 130.25Z" fill="#0000ff" stroke="#0000ff" stroke-width="0.9" stroke-linejoin="round"/>
<path d="M377.46 135.50L382.42 135.50L379.94 131.21Z" fill="#0000ff" stroke="#0000ff" stroke-width="0.9" stroke-linejoin="round"/>
<path d="M377.74 136.46L382.70 136.46L380.22 132.17Z" fill="#0000ff" stroke="#0000ff" stroke-width="0.9" stroke-linejoin="round"/>
<path d="M378.02 137.43L382.98 137.43L380.50 133.13Z" fill="#0000ff" stroke="#0000ff" stroke-width="0.9" stroke-linejoin="round"/>
<path d="M378.28 138.39L383.24 138.39L380.76 134.09Z" fill="#0000ff" stroke="#0000ff" stroke-width="0.9" stroke-linejoin="round"/>
<path d="M378.54 139.35L383.50 139.35L381.02 135.06Z" fill="#0000ff" stroke="#0000ff" stroke-width="0.9" stroke-linejoin="round"/>
<path d="M378.80 140.32L383.76 140.32L381.28 136.03Z" fill="#0000ff" stroke="#0000ff" stroke-width="0.9" stroke-linejoin="round"/>
<path d="M379.04 141.29L384.00 141.29L381.52 137.00Z" fill="#0000ff" stroke="#0000ff" stroke-width="0.9" stroke-linejoin="round"/>
<path d="M379.28 142.26L384.24 142.26L381.76 137.97Z" fill="#0000ff" stroke="#0000ff" stroke-width="0.9" stroke-linejoin="round"/>
<path d="M379.52 143.23L384.48 143.23L382.00 138.94Z" fill="#0000ff" stroke="#0000ff" stroke-width="0.9" stroke-linejoin="round"/>
<path d="M379.74 144.21L384.70 144.21L382.22 139.91Z" fill="#0000ff" stroke="#0000ff" stroke-width="0.9" stroke-linejoin="round"/>
<path d="M379.97 145.18L384.93 145.18L382.45 140.89Z" fill="#0000ff" stroke="#0000ff" stroke-width="0.9" stroke-linejoin="round"/>
<path d="M380.18 146.16L385.14 146.16L382.66 141.86Z" fill="#0000ff" stroke="#0000ff" stroke-width="0.9" stroke-linejoin="round"/>
<path d="M380.39 147.14L385.35 147.14L382.87 142.84Z" fill="#0000ff" stroke="#0000ff" stroke-width="0.9" stroke-linejoin="round"/>
<path d="M380.60 148.12L385.56 148.12L383.08 143.82Z" fill="#0000ff" stroke="#0000ff" stroke-width="0.9" stroke-linejoin="round"/>
<path d="M380.79 149.10L385.75 149.10L383.27 144.80Z" fill="#0000ff" stroke="#0000ff" stroke-width="0.9" stroke-linejoin="round"/>
<path d="M380.99 150.08L385.95 150.08L383.47 145.78Z" fill="#0000ff" stroke="#0000ff" stroke-width="0.9" stroke-linejoin="round"/>
<path d="M381.18 151.06L386.14 151.06L383.66 146.76Z" fill="#0000ff" stroke="#0000ff" stroke-width="0.9" stroke-linejoin="round"/>
<path d="M381.36 152.04L386.32 152.04L383.84 147.75Z" fill="#0000ff" stroke="#0000ff" stroke-width="0.9" stroke-linejoin="round"/>
<path d="M381.54 153.03L386.50 153.03L384.02 148.73Z" fill="#0000ff" stroke="#0000ff" stroke-width="0.9" stroke-linejoin="round"/>
<path d="M381.71 154.01L386.67 154.01L384.19 149.72Z" fill="#0000ff" stroke="#0000ff" stroke-width="0.9" stroke-linejoin="round"/>
<path d="M381.88 155.00L386.84 155.00L384.36 150.70Z" fill="#0000ff" stroke="#0000ff" stroke-width="0.9" stroke-linejoin="round"/>
<path d="M382.05 155.98L387.01 155.98L384.53 151.69Z" fill="#0000ff" stroke="#0000ff" stroke-width="0.9" stroke-linejoin="round"/>
<path d="M382.21 156.97L387.17 156.97L384.69 152.67Z" fill="#0000ff" stroke="#0000ff" stroke-width="0.9" stroke-linejoin="round"/>
<path d="M382.37 157.96L387.33 157.96L384.85 153.66Z" fill="#0000ff" stroke="#0000ff" stroke-width="0.9" stroke-linejoin="round"/>
<path d="M382.52 158.95L387.48 158.95L385.00 154.65Z" fill="#0000ff" stroke="#0000ff" stroke-width="0.9" stroke-linejoin="round"/>
<path d="M382.67 159.93L387.63 159.93L385.15 155.64Z" fill="#0000ff" stroke="#0000ff" stroke-width="0.9" stroke-linejoin="round"/>
<path d="M382.81 160.92L387.77 160.92L385.29 156.63Z" fill="#0000ff" stroke="#0000ff" stroke-width="0.9" stroke-linejoin="round"/>
<path d="M382.96 161.91L387.92 161.91L385.44 157.62Z" fill="#0000ff" stroke="#0000ff" stroke-width="0.9" stroke-linejoin="round"/>
<path d="M383.09 162.90L388.05 162.90L385.57 158.61Z" fill="#0000ff" stroke="#0000ff" stroke-width="0.9" stroke-linejoin="round"/>
<path d="M383.23 163.89L388.19 163.89L385.71 159.60Z" fill="#0000ff" stroke="#0000ff" stroke-width="0.9" stroke-linejoin="round"/>
<path d="M383.36 164.89L388.32 164.89L385.84 160.59Z" fill="#0000ff" stroke="#0000ff" stroke-width="0.9" stroke-linejoin="round"/>
<path d="M383.49 165.88L388.45 165.88L385.97 161.58Z" fill="#0000ff" stroke="#0000ff" stroke-width="0.9" stroke-linejoin="round"/>
<path d="M383.62 166.87L388.58 166.87L386.10 162.57Z" fill="#0000ff" stroke="#0000ff" stroke-width="0.9" stroke-linejoin="round"/>
<path d="M383.74 167.86L388.70 167.86L386.22 163.57Z" fill="#0000ff" stroke="#0000ff" stroke-width="0.9" stroke-linejoin="round"/>
<path d="M383.86 168.85L388.82 168.85L386.34 164.56Z" fill="#0000ff" stroke="#0000ff" stroke-width="0.9" stroke-linejoin="round"/>
<path d="M383.98 169.85L388.94 169.85L386.46 165.55Z" fill="#0000ff" stroke="#0000ff" stroke-width="0.9" stroke-linejoin="round"/>
<path d="M384.10 170.84L389.06 170.84L386.58 166.55Z" fill="#0000ff" stroke="#0000ff" stroke-width="0.9" stroke-linejoin="round"/>
<path d="M384.21 171.83L389.17 171.83L386.69 167.54Z" fill="#0000ff" stroke="#0000ff" stroke-width="0.9" stroke-linejoin="round"/>
<path d="M384.33 172.83L389.29 172.83L386.81 168.53Z" fill="#0000ff" stroke="#0000ff" stroke-width="0.9" stroke-linejoin="round"/>
<path d="M384.44 173.82L389.40 173.82L386.92 169.53Z" fill="#0000ff" stroke="#0000ff" stroke-width="0.9" stroke-linejoin="round"/>
<path d="M384.55 174.82L389.51 174.82L387.03 170.52Z" fill="#0000ff" stroke="#0000ff" stroke-width="0.9" stroke-linejoin="round"/>
<path d="M384.65 175.81L389.61 175.81L387.13 171.51Z" fill="#0000ff" stroke="#0000ff" stroke-width="0.9" stroke-linejoin="round"/>
<path d="M384.76 176.80L389.72 176.80L387.24 172.51Z" fill="#0000ff" stroke="#0000ff" stroke-width="0.9" stroke-linejoin="round"/>
<path d="M384.72 180.35L389.68 180.35L387.20 176.06Z" fill="#0000ff" stroke="#0000ff" stroke-width="0.9" stroke-linejoin="round"/>
<path d="M383.62 185.25L388.58 185.25L386.10 180.96Z" fill="#0000ff" stroke="#0000ff" stroke-width="0.9" stroke-linejoin="round"/>
<path d="M384.32 192.95L389.28 192.95L386.80 188.66Z" fill="#0000ff" stroke="#0000ff" stroke-width="0.9" stroke-linejoin="round"/>
<path d="M91.50 55.30L92.50 55.33L93.50 55.36L94.50 55.38L95.50 55.41L96.50 55.44L97.50 55.46L98.50 55.49L99.50 55.51L100.50 55.54L101.50 55.56L102.50 55.58L103.50 55.61L104.50 55.63L105.50 55.65L106.49 55.67L107.49 55.69L108.49 55.71L109.49 55.73L110.49 55.74L111.49 55.76L112.49 55.78L113.49 55.80L114.49 55.81L115.49 55.83L116.49 55.85L117.49 55.86L118.49 55.88L119.49 55.89L120.49 55.91L121.49 55.92L122.49 55.94L123.49 55.95L124.49 55.96L125.49 55.98L126.49 55.99L127.49 56.00L128.49 56.02L129.49 56.03L130.49 56.04L131.49 56.05L132.49 56.07L133.49 56.08L134.49 56.09L135.49 56.10L136.49 56.12L137.49 56.13L138.49 56.14L139.49 56.15L140.49 56.17L141.49 56.18L142.49 56.19L143.49 56.21L144.49 56.22L145.49 56.23L146.49 56.24L147.49 56.26L148.49 56.27L149.49 56.29L150.49 56.30L151.49 56.32L152.49 56.33L153.49 56.35L154.49 56.36L155.49 56.38L156.49 56.39L157.49 56.41L158.49 56.43L159.49 56.45L160.49 56.46L161.49 56.48L162.49 56.50L163.49 56.52L164.49 56.54L165.49 56.56L166.49 56.58L167.49 56.60L168.49 56.63L169.49 56.65L170.49 56.67L171.49 56.70L172.49 56.72L173.49 56.75L174.49 56.77L175.49 56.80L176.48 56.83L177.48 56.85L178.48 56.88L179.48 56.91L180.48 56.94L181.48 56.98L182.48 57.01L183.48 57.04L184.48 57.08L185.48 57.11L186.48 57.15L187.48 57.18L188.48 57.22L189.48 57.26L190.48 57.30L191.48 57.34L192.48 57.38L193.47 57.43L194.47 57.47L195.47 57.51L196.47 57.56L197.47 57.61L198.47 57.66L199.47 57.71L200.47 57.76L201.46 57.81L202.46 57.86L203.46 57.92L204.46 57.97L205.46 58.03L206.46 58.09L207.46 58.15L208.45 58.21L209.45 58.27L210.45 58.33L211.45 58.40L212.45 58.46L213.44 58.53L214.44 58.60L215.44 58.67L216.44 58.74L217.43 58.82L218.43 58.89L219.43 58.97L220.42 59.05L221.42 59.13L222.42 59.21L223.41 59.29L224.41 59.37L225.41 59.46L226.40 59.55L227.40 59.64L228.39 59.73L229.39 59.82L230.39 59.91L231.38 60.01L232.38 60.11L233.37 60.21L234.37 60.31L235.36 60.41L236.36 60.52L237.35 60.62L238.34 60.73L239.34 60.84L240.33 60.96L241.33 61.07L242.32 61.19L243.31 61.30L244.30 61.42L245.30 61.55L246.29 61.67L247.28 61.79L248.27 61.92L249.26 62.05L250.26 62.18L251.25 62.32L252.24 62.45L253.23 62.59L254.22 62.73L255.21 62.88L256.20 63.02L257.19 63.17L258.17 63.32L259.16 63.47L260.15 63.62L261.14 63.78L262.13 63.94L263.11 64.10L264.10 64.27L265.08 64.44L266.07 64.61L267.05 64.78L268.04 64.96L269.02 65.14L270.01 65.32L270.99 65.51L271.97 65.70L272.95 65.89L273.93 66.09L274.91 66.28L275.89 66.49L276.87 66.69L277.85 66.90L278.82 67.11L279.80 67.33L280.78 67.55L281.75 67.77L282.73 68.00L283.70 68.23L284.67 68.47L285.64 68.71L286.61 68.95L287.58 69.20L288.55 69.45L289.52 69.70L290.48 69.96L291.45 70.23L292.41 70.49L293.37 70.77L294.33 71.04L295.29 71.32L296.25 71.61L297.21 71.90L298.16 72.19L299.12 72.49L300.07 72.79L301.02 73.10L301.97 73.41L302.92 73.73L303.87 74.05L304.81 74.38L305.76 74.71L306.70 75.05L307.64 75.39L308.57 75.74L309.51 76.10L310.44 76.45L311.37 76.82L312.30 77.19L313.23 77.56L314.15 77.94L315.08 78.33L316.00 78.72L316.91 79.12L317.83 79.52L318.74 79.93L319.65 80.35L320.56 80.77L321.46 81.20L322.36 81.63L323.26 82.08L324.15 82.52L325.04 82.98L325.93 83.44L326.82 83.91L327.70 84.38L328.57 84.86L329.45 85.35L330.31 85.84L331.18 86.34L332.04 86.85L332.90 87.37L333.75 87.89L334.60 88.42L335.44 88.96L336.28 89.51L337.11 90.06L337.94 90.62L338.76 91.19L339.58 91.76L340.39 92.35L341.20 92.94L342.00 93.53L342.80 94.14L343.59 94.75L344.37 95.38L345.15 96.01L345.92 96.64L346.68 97.29L347.44 97.94L348.19 98.60L348.93 99.27L349.67 99.95L350.39 100.64L351.11 101.33L351.83 102.03L352.53 102.74L353.23 103.46L353.92 104.18L354.60 104.91L355.28 105.65L355.95 106.39L356.60 107.15L357.26 107.90L357.90 108.67L358.54 109.44L359.17 110.22L359.79 111.00L360.40 111.79L361.01 112.58L361.61 113.38L362.20 114.19L362.79 115.00L363.37 115.82L363.94 116.64L364.50 117.46L365.05 118.30L365.60 119.13L366.14 119.97L366.68 120.82L367.21 121.67L367.73 122.52L368.24 123.38L368.75 124.24L369.25 125.11L369.74 125.98L370.22 126.85L370.70 127.73L371.18 128.61L371.64 129.50L372.10 130.38L372.55 131.28L373.00 132.17L373.44 133.07L373.87 133.97L374.30 134.87L374.72 135.78L375.13 136.69L375.54 137.61L375.94 138.52L376.34 139.44L376.73 140.36L377.11 141.28L377.49 142.21L377.86 143.14L378.22 144.07L378.58 145.00L378.94 145.94L379.28 146.88L379.63 147.82L379.96 148.76L380.29 149.70L380.61 150.65L380.93 151.60L381.25 152.55L381.55 153.50L381.85 154.45L382.15 155.41L382.44 156.36L382.72 157.32L383.00 158.28L383.28 159.25L383.54 160.21L383.80 161.17L384.06 162.14L384.31 163.11L384.56 164.08L384.80 165.05L385.03 166.02L385.26 166.99L385.49 167.97L385.71 168.94L385.92 169.92L386.13 170.90L386.33 171.88L386.53 172.86L386.72 173.84L386.91 174.82L387.09 175.81L387.27 176.79L387.44 177.78L387.60 178.76L387.76 179.75L387.92 180.74L388.07 181.73L388.21 182.71L388.35 183.70L388.49 184.70L388.62 185.69L388.74 186.68L388.86 187.67" fill="none" stroke="#ffa500" stroke-width="4.0" stroke-linecap="square" stroke-linejoin="round"/>
<path d="M387.62 190.05L390.38 190.05L389.00 187.56Z" fill="#ffa500" stroke="#ffa500" stroke-width="0.9" stroke-linejoin="round"/>
<path d="M387.82 192.05L390.58 192.05L389.20 189.56Z" fill="#ffa500" stroke="#ffa500" stroke-width="0.9" stroke-linejoin="round"/>
<path d="M388.12 194.15L390.88 194.15L389.50 191.66Z" fill="#ffa500" stroke="#ffa500" stroke-width="0.9" stroke-linejoin="round"/>
<path d="M388.42 196.35L391.18 196.35L389.80 193.86Z" fill="#ffa500" stroke="#ffa500" stroke-width="0.9" stroke-linejoin="round"/>
<path d="M388.72 198.45L391.48 198.45L390.10 195.96Z" fill="#ffa500" stroke="#ffa500" stroke-width="0.9" stroke-linejoin="round"/>
<path d="M389.12 200.45L391.88 200.45L390.50 197.96Z" fill="#ffa500" stroke="#ffa500" stroke-width="0.9" stroke-linejoin="round"/>
<path d="M389.42 204.25L392.18 204.25L390.80 201.76Z" fill="#ffa500" stroke="#ffa500" stroke-width="0.9" stroke-linejoin="round"/>
<path d="M389.82 208.05L392.58 208.05L391.20 205.56Z" fill="#ffa500" stroke="#ffa500" stroke-width="0.9" stroke-linejoin="round"/>
<path d="M390.22 211.95L392.98 211.95L391.60 209.46Z" fill="#ffa500" stroke="#ffa500" stroke-width="0.9" stroke-linejoin="round"/>
<path d="M390.62 216.35L393.38 216.35L392.00 213.86Z" fill="#ffa500" stroke="#ffa500" stroke-width="0.9" stroke-linejoin="round"/>
<path d="M390.92 220.95L393.68 220.95L392.30 218.46Z" fill="#ffa500" stroke="#ffa500" stroke-width="0.9" stroke-linejoin="round"/>
<path d="M391.12 226.15L393.88 226.15L392.50 223.66Z" fill="#ffa500" stroke="#ffa500" stroke-width="0.9" stroke-linejoin="round"/>
<path d="M391.32 232.45L394.08 232.45L392.70 229.96Z" fill="#ffa500" stroke="#ffa500" stroke-width="0.9" stroke-linejoin="round"/>
<path d="M391.52 240.45L394.28 240.45L392.90 237.96Z" fill="#ffa500" stroke="#ffa500" stroke-width="0.9" stroke-linejoin="round"/>
<path d="M391.82 250.65L394.58 250.65L393.20 248.16Z" fill="#ffa500" stroke="#ffa500" stroke-width="0.9" stroke-linejoin="round"/>
<path d="M392.02 269.65L394.78 269.65L393.40 267.15Z" fill="#ffa500" stroke="#ffa500" stroke-width="0.9" stroke-linejoin="round"/>
</g>
<rect x="124.6" y="162.5" width="118" height="78.7" fill="#fff" stroke="#000" stroke-width="1"/>
<rect x="209.70" y="168.20" width="4.4" height="4.4" fill="#000"/>
<circle cx="211.90" cy="186.10" r="1.85" fill="none" stroke="#00ff00" stroke-width="2.65"/>
<circle cx="211.90" cy="201.80" r="2.1" fill="#ff0000"/>
<path d="M209.42 219.45L214.38 219.45L211.90 215.16Z" fill="#0000ff" stroke="#0000ff" stroke-width="0.9" stroke-linejoin="round"/>
<path d="M210.52 234.35L213.28 234.35L211.90 231.86Z" fill="#ffa500" stroke="#ffa500" stroke-width="0.9" stroke-linejoin="round"/>
<g font-family="Liberation Serif, serif" font-size="15.7px" fill="#000">
<text x="91.75" y="307.2" text-anchor="middle">0</text>
<text x="80.3" y="290.65" text-anchor="end">0</text>
<text x="152.74" y="307.2" text-anchor="middle">0.2</text>
<text x="80.3" y="249.66" text-anchor="end">0.2</text>
<text x="213.73" y="307.2" text-anchor="middle">0.4</text>
<text x="80.3" y="208.67" text-anchor="end">0.4</text>
<text x="274.73" y="307.2" text-anchor="middle">0.6</text>
<text x="80.3" y="167.67" text-anchor="end">0.6</text>
<text x="335.72" y="307.2" text-anchor="middle">0.8</text>
<text x="80.3" y="126.68" text-anchor="end">0.8</text>
<text x="396.71" y="307.2" text-anchor="middle">1</text>
<text x="80.3" y="85.69" text-anchor="end">1</text>
<text x="457.70" y="307.2" text-anchor="middle">1.2</text>
<text x="80.3" y="44.70" text-anchor="end">1.2</text>
<text x="181.2" y="175.80" text-anchor="end">T=0</text>
<text x="181.2" y="191.45" text-anchor="end">T=0.06</text>
<text x="181.2" y="207.10" text-anchor="end">T=0.12</text>
<text x="181.2" y="222.75" text-anchor="end">T=0.18</text>
<text x="181.2" y="238.40" text-anchor="end">T=0.21</text>
<text x="105" y="44.5" font-size="16px">d=3 U=-4 µ=-2.4439</text>
<text x="426.2" y="275.7" font-size="14.8px">(a)</text>
</g>
<text x="268.3" y="326.7" font-family="Liberation Sans, sans-serif" font-style="italic" font-size="20px" fill="#000">h</text>
<text transform="translate(42,158.2) rotate(-90)" font-family="Liberation Serif, serif" font-size="19.5px" fill="#000">Δ</text>
</svg>
</body></html>
